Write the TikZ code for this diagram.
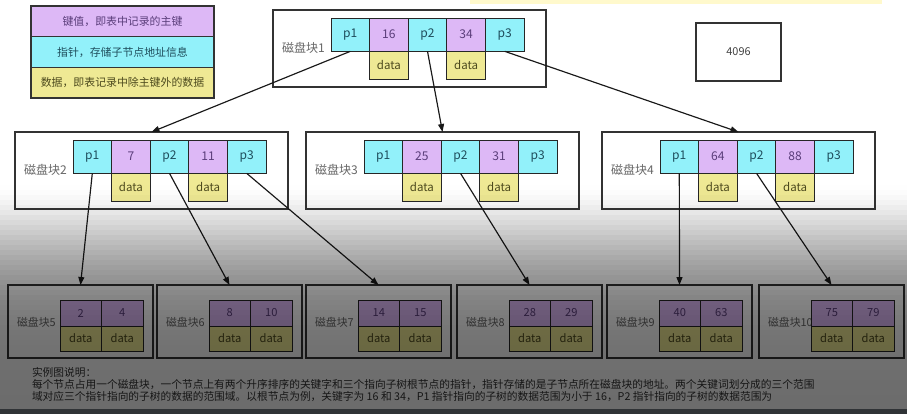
\documentclass[tikz,border=0pt]{standalone}
\usepackage{fontspec}
\setmainfont{Noto Sans CJK SC}
\usetikzlibrary{positioning,arrows.meta}

\definecolor{keyfill}{HTML}{DDB8F6}
\definecolor{ptrfill}{HTML}{92F1FA}
\definecolor{datfill}{HTML}{EFE994}
\definecolor{keytxt}{HTML}{5A3D7A}
\definecolor{ptrtxt}{HTML}{1E4D5C}
\definecolor{dattxt}{HTML}{4D4A1E}
\definecolor{stripfill}{HTML}{FFF9CC}
\definecolor{barfill}{HTML}{303336}

\begin{document}
\begin{tikzpicture}[
  x=0.03cm, y=-0.03cm,
  every node/.style={inner sep=0pt, outer sep=0pt, font=\fontsize{10.3}{12}\selectfont},
  cell/.style={draw=black!85, line width=0.85pt, minimum width=1.158cm, minimum height=1cm},
  ptr/.style={cell, fill=ptrfill, text=ptrtxt},
  key/.style={cell, fill=keyfill, text=keytxt},
  dat/.style={cell, fill=datfill, text=dattxt, minimum height=0.84cm, font=\fontsize{9.8}{11}\selectfont},
  leafkey/.style={key, minimum width=1.245cm, minimum height=0.78cm, font=\fontsize{9.5}{11}\selectfont},
  leafdat/.style={dat, minimum width=1.245cm, minimum height=0.75cm, font=\fontsize{9.5}{11}\selectfont},
  block/.style={draw=black!80, line width=0.95pt, anchor=north west, minimum width=8.19cm, minimum height=2.31cm},
  leaf/.style={block, minimum width=4.35cm, minimum height=2.19cm},
  blocklabel/.style={anchor=west, text=black!60},
  legend/.style={draw=black!80, line width=0.95pt, anchor=north west, minimum width=5.49cm, minimum height=0.92cm, font=\fontsize{9.3}{11}\selectfont},
  arr/.style={draw=black!90, line width=1pt, -{Triangle[length=2.4mm,width=1.8mm]}}
]
\useasboundingbox (0,0) rectangle (907,414);

\fill[stripfill] (470,0) rectangle (882,4);

% legend
\node[legend, fill=keyfill, text=keytxt] (lgkey) at (31,6) {键值，即表中记录的主键};
\node[legend, fill=ptrfill, text=ptrtxt, below=0pt of lgkey] (lgptr) {指针，存储子节点地址信息};
\node[legend, fill=datfill, text=dattxt, below=0pt of lgptr] (lgdat) {数据，即表记录中除主键外的数据};

\node[draw=black!80, line width=0.95pt, minimum width=2.55cm, minimum height=1.74cm,
  font=\fontsize{9.3}{11}\selectfont, text=black!75] (pagesize) at (738.5,52) {4096};

% inner blocks
\foreach \b/\x/\y/\ka/\kb in {1/273/10/16/34, 2/15/132/7/11, 3/306/132/25/31, 4/602/132/64/88} {
  \node[block] (b\b) at (\x,\y) {};
  \node[blocklabel] at (\x+9,\y+38) {磁盘块\b};
  \node[ptr, anchor=north west] (b\b-p1) at (\x+58,\y+8) {p1};
  \node[key, right=0pt of b\b-p1] (b\b-k1) {\ka};
  \node[ptr, right=0pt of b\b-k1] (b\b-p2) {p2};
  \node[key, right=0pt of b\b-p2] (b\b-k2) {\kb};
  \node[ptr, right=0pt of b\b-k2] (b\b-p3) {p3};
  \node[dat, below=0pt of b\b-k1] (b\b-d1) {data};
  \node[dat, below=0pt of b\b-k2] (b\b-d2) {data};
}

% leaf blocks
\foreach \b/\x/\ka/\kb in {5/8/2/4, 6/157/8/10, 7/306/14/15, 8/457/28/29, 9/607/40/63, 10/759/75/79} {
  \node[leaf] (b\b) at (\x,285) {};
  \node[blocklabel, font=\fontsize{9.3}{11}\selectfont] at (\x+9,322) {磁盘块\b};
  \node[leafkey, anchor=north west] (b\b-k1) at (\x+52,300) {\ka};
  \node[leafkey, right=0pt of b\b-k1] (b\b-k2) {\kb};
  \node[leafdat, below=0pt of b\b-k1] (b\b-d1) {data};
  \node[leafdat, below=0pt of b\b-k2] (b\b-d2) {data};
}

\foreach \from/\to in {b1-p1/b2, b1-p2/b3, b1-p3/b4, b2-p1/b5, b2-p2/b6, b2-p3/b7, b3-p2/b8, b4-p1/b9, b4-p2/b10}
  \draw[arr] (\from.south) -- (\to.north);

\node[anchor=north west, align=left, text=black!80, font=\fontsize{9.15}{10.6}\selectfont] (note) at (32,367)
  {实例图说明：\\
   每个节点占用一个磁盘块，一个节点上有两个升序排序的关键字和三个指向子树根节点的指针，指针存储的是子节点所在磁盘块的地址。两个关键词划分成的三个范围\\
   域对应三个指针指向的子树的数据的范围域。以根节点为例，关键字为 16 和 34，P1 指针指向的子树的数据范围为小于 16，P2 指针指向的子树的数据范围为};

% darkening towards the bottom
\foreach \i in {0,...,44} {
  \pgfmathsetmacro\op{0.58*(1-exp(-pow((\i*5+2.5)/80,1.6)))}
  \fill[black, opacity=\op] (0,185+\i*5) rectangle (907,190+\i*5);
}
\fill[barfill] (0,409) rectangle (907,414);
\end{tikzpicture}
\end{document}
